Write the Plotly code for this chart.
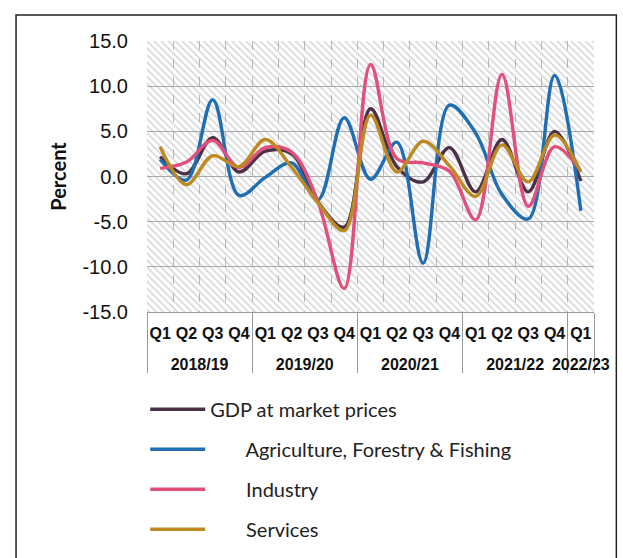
import plotly.graph_objects as go

years = ["2018/19"] * 4 + ["2019/20"] * 4 + ["2020/21"] * 4 + ["2021/22"] * 4 + ["2022/23"]
quarters = ["Q1", "Q2", "Q3", "Q4"] * 4 + ["Q1"]

gdp = [2.2, 0.3, 4.3, 0.5, 2.8, 2.5, -2.8, -5.6, 7.5, 1.1, -0.6, 3.2, -1.7, 4.1, -1.7, 5.0, -0.5]
agri = [1.9, -0.4, 8.5, -2.1, -0.1, 1.5, -2.6, 6.5, -0.3, 3.8, -9.6, 7.9, 4.8, -2.0, -4.7, 11.2, -3.8]
industry = [0.9, 1.6, 4.0, 1.0, 3.2, 2.7, -2.8, -12.4, 12.4, 2.0, 1.5, 0.6, -4.8, 11.3, -3.3, 3.3, 0.6]
services = [3.3, -0.9, 2.3, 1.1, 4.1, 1.0, -2.9, -6.0, 6.8, 0.5, 3.9, 1.2, -2.2, 3.5, -0.6, 4.6, 0.5]

names = ["GDP at market prices", "Agriculture, Forestry & Fishing", "Industry", "Services"]
colors = ["#4b3148", "#1f6eb4", "#e0507a", "#bd8a22"]
y_range = [-15, 15]
y_ticks = [-15, -10, -5, 0, 5, 10, 15]
y_ticktext = ["%.1f" % v for v in y_ticks]

pad = "\u00a0" * 7
# display labels: 16px text; quarter labels get an empty second line so the
# year row sits lower, as in the original
q_labels = ["<span style='font-size:16px'>%s</span><br>\u00a0" % q for q in quarters]
y_labels = ["<span style='font-size:16px'>%s</span>" % yv for yv in years]
x = [y_labels, q_labels]

fig = go.Figure()
# hatched plot background (decorative)
fig.add_trace(go.Bar(
    x=x, y=[y_range[1] - y_range[0]] * len(quarters), base=y_range[0], width=1,
    marker=dict(color="rgba(0,0,0,0)", line=dict(width=0),
                pattern=dict(shape="\\", fgcolor="#a9a9b2", size=5, solidity=0.3)),
    showlegend=False, hoverinfo="skip"))

series = [gdp, agri, industry, services]
for k, (nm, vals, col) in enumerate(zip(names, series, colors)):
    fig.add_trace(go.Scatter(
        x=x, y=vals, mode="lines", name=(nm if k == 0 else pad + nm),
        line=dict(color=col, width=3.4, shape="spline", smoothing=1),
        legendgroup=f"g{k}"))

fig.update_layout(
    width=623, height=558,
    margin=dict(l=147, r=29, t=41, b=246, autoexpand=False),
    paper_bgcolor="white", plot_bgcolor="white",
    bargap=0,
    showlegend=True,
    legend=dict(x=-0.004, y=-0.287, xanchor="left", yanchor="top",
                font=dict(family="Lato", size=20, color="#222222"),
                itemwidth=55, tracegroupgap=11, bgcolor="rgba(0,0,0,0)"),
    font=dict(family="Liberation Sans", color="#111111"),
    shapes=[dict(type="rect", xref="paper", yref="paper",
                 x0=-0.293, x1=1.05, y0=-1.0, y1=1.096,
                 line=dict(color="#222222", width=1.5), layer="below")],
)
fig.update_yaxes(range=y_range, tickvals=y_ticks, ticktext=y_ticktext,
                 showgrid=True, gridcolor="#a8a8a8", gridwidth=1,
                 zeroline=False, showline=False, automargin=False,
                 tickfont=dict(family="Liberation Sans", size=20, color="#111111"),
                 ticklabelstandoff=18,
                 title=dict(text="Percent", standoff=10,
                            font=dict(family="Lato", size=20, weight="bold", color="#111111")))
fig.update_xaxes(type="multicategory", showgrid=True, gridcolor="#b8b8b8", griddash="dash",
                 showline=True, linecolor="#999999", linewidth=1, ticks="", tickangle=0,
                 automargin=False, ticklabelstandoff=8,
                 showdividers=True, dividercolor="#999999", dividerwidth=1,
                 tickfont=dict(family="Liberation Sans", size=15, weight="bold", color="#111111"))

fig.write_html("out.html", config={"displayModeBar": False},
               post_script="document.body.style.margin='0px';")
